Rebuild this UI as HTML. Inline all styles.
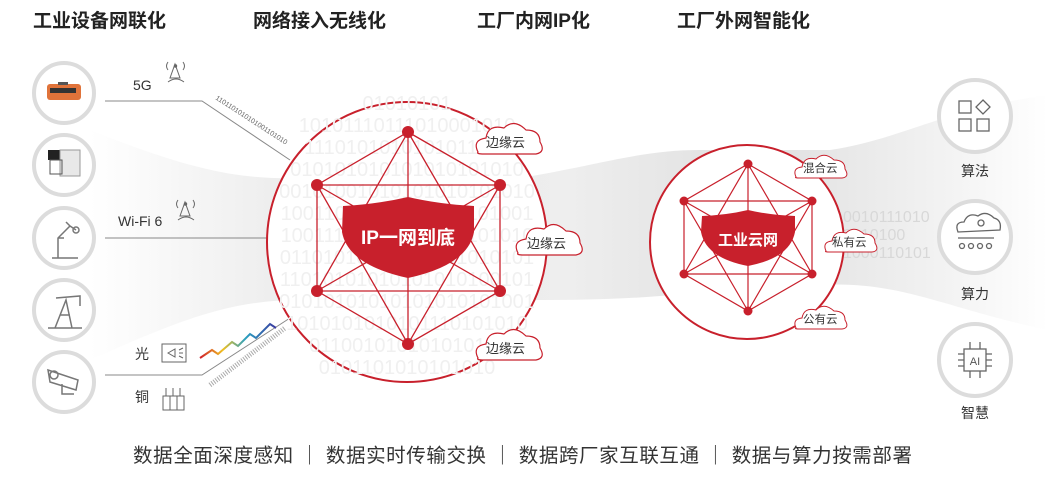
<!DOCTYPE html>
<html><head><meta charset="utf-8"><style>
html,body{margin:0;padding:0;background:#fff;}
svg{display:block;font-family:"Liberation Sans","Noto Sans CJK SC",sans-serif;}
</style></head><body>
<svg width="1048" height="485" viewBox="0 0 1048 485" xmlns="http://www.w3.org/2000/svg">
<defs>
<linearGradient id="band" x1="0" x2="1" y1="0" y2="0">
<stop offset="0" stop-color="#fff"/><stop offset="0.25" stop-color="#e6e6e6"/><stop offset="0.5" stop-color="#ececec"/><stop offset="0.7" stop-color="#dcdcdc"/><stop offset="0.9" stop-color="#f2f2f2"/><stop offset="1" stop-color="#fff"/>
</linearGradient>
<linearGradient id="rb" x1="0" x2="1"><stop offset="0" stop-color="#d01e2a"/><stop offset="0.3" stop-color="#f0c020"/><stop offset="0.6" stop-color="#2aa0c0"/><stop offset="1" stop-color="#3a3aa0"/></linearGradient>
</defs>
<path d="M90 130 C190 170 240 180 300 178 L520 178 C600 165 640 150 700 150 L830 150 C900 140 940 110 1048 95 L1048 330 C950 310 900 280 820 285 L720 290 C640 300 580 300 520 300 L300 300 C230 300 180 320 90 360 Z" fill="url(#band)" opacity="0.9"/>

<g font-size="19" font-weight="bold" fill="#222">
<text x="33" y="27">工业设备网联化</text>
<text x="253" y="27">网络接入无线化</text>
<text x="477" y="27">工厂内网IP化</text>
<text x="677" y="27">工厂外网智能化</text>
</g>

<g fill="#fff" stroke="#dcdcdc" stroke-width="4">
<circle cx="64" cy="93" r="30"/><circle cx="64" cy="165" r="30"/><circle cx="64" cy="238" r="30"/><circle cx="64" cy="310" r="30"/><circle cx="64" cy="382" r="30"/>
</g>
<rect x="47" y="84" width="34" height="16" rx="3" fill="#e0733a"/><rect x="50" y="88" width="26" height="5" fill="#333"/><rect x="58" y="82" width="10" height="3" fill="#555"/>
<rect x="48" y="150" width="14" height="10" fill="#222"/><rect x="60" y="150" width="20" height="26" fill="#e8e8e8" stroke="#999"/><rect x="50" y="160" width="12" height="14" fill="none" stroke="#555"/>
<g fill="none" stroke="#777" stroke-width="1.5">
<path d="M52 258 L78 258 M58 258 L58 238 L70 226 L76 230 M58 238 L64 238 M70 226 L66 222"/>
<circle cx="76" cy="230" r="3"/>
<path d="M48 328 L82 328 M55 328 L66 300 L72 328 M60 315 L70 315 M56 298 L80 296 L80 306"/>
<path d="M48 370 L78 380 L76 390 L50 382 Z M62 384 L62 394 L74 394"/><circle cx="54" cy="375" r="4"/>
</g>

<g fill="none" stroke="#888" stroke-width="1">
<path d="M105 101 L202 101 L290 160"/>
<path d="M105 238 L270 238"/>
<path d="M105 375 L202 375 L290 318"/>
</g>
<text x="215" y="99" font-size="7" fill="#666" transform="rotate(33 215 99)">1101101010101001101010</text>
<path d="M200 358 L212 350 L218 354 L232 342 L238 346 L250 334 L256 338 L270 324 L276 328" fill="none" stroke="url(#rb)" stroke-width="2"/>
<path d="M210 385 L285 328" fill="none" stroke="#aaa" stroke-width="5" stroke-dasharray="1 1.5"/>
<g font-size="14" fill="#333">
<text x="133" y="90">5G</text>
<text x="118" y="226">Wi-Fi 6</text>
<text x="135" y="359">光</text>
<text x="135" y="402">铜</text>
</g>
<g fill="none" stroke="#666" stroke-width="1">
<path d="M170 78 L175 64 L180 78 Z M168 82 q8 -6 16 0"/><path d="M168 62 q-3 4 0 8 M183 62 q3 4 0 8"/><circle cx="175.5" cy="66" r="1.2" fill="#666"/>
<path d="M180 216 L185 202 L190 216 Z M178 220 q8 -6 16 0"/><path d="M178 200 q-3 4 0 8 M193 200 q3 4 0 8"/><circle cx="185.5" cy="204" r="1.2" fill="#666"/>
<rect x="162" y="344" width="24" height="18"/><path d="M168 353 L175 349 L175 357 Z M179 350 L183 348 M179 353 L183 353 M179 356 L183 358"/>
<rect x="163" y="396" width="7" height="14"/><rect x="170" y="396" width="7" height="14"/><rect x="177" y="396" width="7" height="14"/><path d="M166 396 L166 388 M173 396 L173 388 M180 396 L180 388"/>
</g>

<circle cx="407" cy="242" r="140" fill="#fff" stroke="#c8202c" stroke-width="2"/>
<g font-size="20" fill="#f0f0f0" text-anchor="middle">
<text x="407" y="110">01010101</text>
<text x="407" y="132">10101110111010001010</text>
<text x="407" y="154">1110101010101011101</text>
<text x="407" y="176">010101010101010101010</text>
<text x="407" y="198">00101001010101010101010</text>
<text x="407" y="220">10011010101101010101001</text>
<text x="407" y="242">10011101010101010101010</text>
<text x="407" y="264">01101010101010101010101</text>
<text x="407" y="286">11010101010101010100101</text>
<text x="407" y="308">01010101010101010101001</text>
<text x="407" y="330">1010101010101110101010</text>
<text x="407" y="352">011001010101010111</text>
<text x="407" y="374">0101101010101010</text>
</g>
<g stroke="#c8202c" stroke-width="1.3" fill="none">
<path d="M408 132 L500 185 L500 291 L408 344 L317 291 L317 185 Z"/>
<path d="M408 132 L500 291 L317 291 Z M408 344 L317 185 L500 185 Z"/>
<path d="M317 185 L500 291 M500 185 L317 291 M408 132 L408 344"/>
</g>
<g fill="#c8202c"><circle cx="408" cy="132" r="6"/><circle cx="500" cy="185" r="6"/><circle cx="500" cy="291" r="6"/><circle cx="408" cy="344" r="6"/><circle cx="317" cy="291" r="6"/><circle cx="317" cy="185" r="6"/></g>
<path d="M343 206 Q378 204 408 197 Q438 204 474 206 L474 232 Q468 265 408 278 Q348 265 342 232 Z" fill="#c8202c"/>
<text x="408" y="244" font-size="19" fill="#fff" text-anchor="middle" font-weight="bold">IP一网到底</text>

<g fill="#fff" stroke="#c8202c" stroke-width="1.2">
<path d="M478 152 q-6 -12 8 -14 q2 -14 18 -10 q10 -10 22 2 q14 0 14 12 q6 10 -4 12 l-52 0 q-8 0 -6 -2 Z"/>
<path d="M518 253 q-6 -12 8 -14 q2 -14 18 -10 q10 -10 22 2 q14 0 14 12 q6 10 -4 12 l-52 0 q-8 0 -6 -2 Z"/>
<path d="M478 358 q-6 -12 8 -14 q2 -14 18 -10 q10 -10 22 2 q14 0 14 12 q6 10 -4 12 l-52 0 q-8 0 -6 -2 Z"/>
</g>
<g font-size="13" fill="#333"><text x="486" y="147">边缘云</text><text x="527" y="248">边缘云</text><text x="486" y="353">边缘云</text></g>

<circle cx="747" cy="242" r="97" fill="#fff" stroke="#c8202c" stroke-width="2"/>
<g stroke="#c8202c" stroke-width="1.2" fill="none">
<path d="M748 164 L812 201 L812 274 L748 311 L684 274 L684 201 Z"/>
<path d="M748 164 L812 274 L684 274 Z M748 311 L684 201 L812 201 Z"/>
<path d="M684 201 L812 274 M812 201 L684 274 M748 164 L748 311"/>
</g>
<g fill="#c8202c"><circle cx="748" cy="164" r="4.5"/><circle cx="812" cy="201" r="4.5"/><circle cx="812" cy="274" r="4.5"/><circle cx="748" cy="311" r="4.5"/><circle cx="684" cy="274" r="4.5"/><circle cx="684" cy="201" r="4.5"/></g>
<path d="M702 216 Q727 215 748 210 Q769 215 795 216 L795 232 Q790 258 748 266 Q706 258 701 232 Z" fill="#c8202c"/>
<text x="748" y="245" font-size="15" fill="#fff" text-anchor="middle" font-weight="bold">工业云网</text>
<g font-size="16" fill="#d8d8d8"><text x="843" y="222">0010111010</text><text x="843" y="240">0010100</text><text x="843" y="258">1000110101</text></g>
<g fill="#fff" stroke="#c8202c" stroke-width="1"><path d="M796 177 q-4 -9 6 -10 q2 -11 14 -8 q8 -8 18 1 q11 0 11 9 q5 8 -3 9 l-42 0 q-6 0 -4 -1 Z"/>
<path d="M826 251 q-4 -9 6 -10 q2 -11 14 -8 q8 -8 18 1 q11 0 11 9 q5 8 -3 9 l-42 0 q-6 0 -4 -1 Z"/>
<path d="M796 328 q-4 -9 6 -10 q2 -11 14 -8 q8 -8 18 1 q11 0 11 9 q5 8 -3 9 l-42 0 q-6 0 -4 -1 Z"/></g>
<g font-size="11.5" fill="#333"><text x="803" y="172">混合云</text><text x="832" y="246">私有云</text><text x="803" y="323">公有云</text></g>

<g fill="#fff" stroke="#dcdcdc" stroke-width="4">
<circle cx="975" cy="116" r="36"/><circle cx="975" cy="237" r="36"/><circle cx="975" cy="360" r="36"/>
</g>
<g fill="none" stroke="#666" stroke-width="1.3">
<rect x="959" y="101" width="12" height="12"/><rect x="959" y="119" width="12" height="12"/><rect x="977" y="119" width="12" height="12"/><path d="M983 100 L990 107 L983 114 L976 107 Z"/>
<path d="M958 232 q-4 -10 6 -10 q4 -10 14 -6 q8 -6 16 2 q8 2 6 12 Z"/><circle cx="981" cy="223" r="3"/>
<path d="M958 238 L994 238"/><circle cx="962" cy="246" r="2.5"/><circle cx="971" cy="246" r="2.5"/><circle cx="980" cy="246" r="2.5"/><circle cx="989" cy="246" r="2.5"/>
<rect x="964" y="349" width="22" height="22"/><path d="M958 354 L964 354 M958 360 L964 360 M958 366 L964 366 M986 354 L992 354 M986 360 L992 360 M986 366 L992 366 M970 349 L970 342 M980 349 L980 342 M970 371 L970 378 M980 371 L980 378"/>
</g>
<text x="975" y="365" font-size="11" fill="#555" text-anchor="middle">AI</text>
<g font-size="14" fill="#333" text-anchor="middle"><text x="975" y="176">算法</text><text x="975" y="299">算力</text><text x="975" y="418">智慧</text></g>

<text x="133" y="462" font-size="19.5" fill="#333" textLength="779" lengthAdjust="spacing">数据全面深度感知 ｜ 数据实时传输交换 ｜ 数据跨厂家互联互通 ｜ 数据与算力按需部署</text>
</svg>
</body></html>
